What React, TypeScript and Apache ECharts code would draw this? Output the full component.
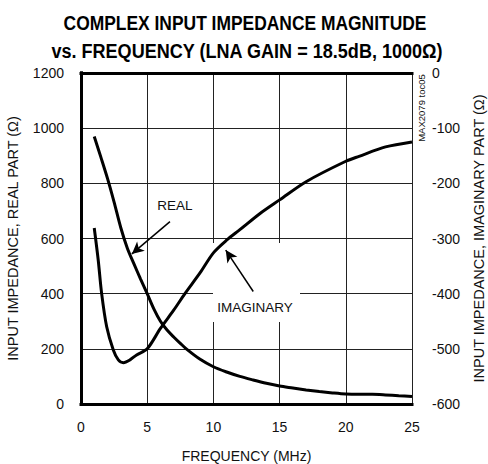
import React, { useEffect, useRef } from "react";
import * as echarts from "echarts";

const FONT = "'Liberation Sans', Arial, sans-serif";

const titleLines = ["COMPLEX INPUT IMPEDANCE MAGNITUDE", "vs. FREQUENCY (LNA GAIN = 18.5dB, 1000Ω)"];
const xName = "FREQUENCY (MHz)";
const yLeftName = "INPUT IMPEDANCE, REAL PART (Ω)";
const yRightName = "INPUT IMPEDANCE, IMAGINARY PART (Ω)";

// Real part (left axis, Ω)
const realFreq = [1, 1.5, 2, 2.5, 3, 3.5, 4, 4.5, 5, 5.5, 6, 6.5, 7, 7.5, 8, 9, 10, 11, 12, 13, 14, 15, 16, 17, 18, 19, 20, 21, 22, 23, 24, 25];
const realVal = [970, 895, 818, 732, 640, 565, 508, 453, 400, 345, 300, 268, 243, 220, 198, 162, 135, 116, 100, 87, 75, 65, 58, 51, 45, 40, 36, 35, 35, 33, 30, 27];

// Imaginary part (right axis, Ω)
const imagFreq = [1, 1.3, 1.56, 1.94, 2.44, 2.82, 3.2, 3.7, 4.2, 5, 6, 7, 7.85, 9, 10, 11, 12, 13.5, 15, 17, 20, 21, 23, 25];
const imagVal = [-281, -339, -400, -460, -502, -520, -525, -520, -511, -500, -463, -430, -400, -362, -326, -303, -284, -255, -230, -197, -160, -151, -134, -125];

const annotations = { real: "REAL", imag: "IMAGINARY", code: "MAX2079 toc05" };

export default function App() {
  const ref = useRef<HTMLDivElement>(null);
  useEffect(() => {
    if (!ref.current) return;
    const chart = echarts.init(ref.current, null, { renderer: "svg" });
    const realData = realFreq.map((f, i) => [f, realVal[i]]);
    const imagData = imagFreq.map((f, i) => [f, imagVal[i]]);
    const axisLabel = { color: "#111", fontSize: 14, fontFamily: FONT, formatter: (v: number) => String(v) };
    const frame = { show: true, lineStyle: { color: "#000", width: 3, cap: "square" } };
    const nameStyle = { fontSize: 14.5, fontFamily: FONT, color: "#111" };
    chart.setOption({
      animation: false,
      backgroundColor: "#fff",
      grid: { left: 81, right: 76, top: 73, bottom: 60, containLabel: false, outerBoundsMode: "none" },
      xAxis: [
        {
          type: "value",
          min: 0,
          max: 25,
          interval: 5,
          name: xName,
          nameLocation: "middle",
          nameGap: 45,
          nameTextStyle: { ...nameStyle, fontSize: 14 },
          axisLine: frame,
          axisTick: { show: false },
          axisLabel: { ...axisLabel, margin: 16 },
          splitLine: { show: true, lineStyle: { color: "#222", width: 1 } },
        },
        {
          type: "value",
          position: "top",
          min: 0,
          max: 25,
          interval: 5,
          axisLine: frame,
          axisTick: { show: false },
          axisLabel: { show: false },
          splitLine: { show: false },
        },
      ],
      yAxis: [
        {
          type: "value",
          min: 0,
          max: 1200,
          interval: 200,
          name: yLeftName,
          nameLocation: "middle",
          nameGap: 61,
          nameTextStyle: nameStyle,
          axisLine: frame,
          axisTick: { show: false },
          axisLabel: { ...axisLabel, margin: 17 },
          splitLine: { show: true, lineStyle: { color: "#222", width: 1 } },
        },
        {
          type: "value",
          min: -600,
          max: 0,
          interval: 100,
          position: "right",
          name: yRightName,
          nameLocation: "middle",
          nameGap: 59,
          nameRotate: 90,
          nameTextStyle: nameStyle,
          axisLine: frame,
          axisTick: { show: false },
          axisLabel: { ...axisLabel, margin: 20 },
          splitLine: { show: false },
        },
      ],
      graphic: [
        {
          type: "text",
          x: 245,
          y: 23,
          scaleX: 0.83,
          style: { text: titleLines[0], fontSize: 21, fontWeight: "bold", fontFamily: FONT, fill: "#000", align: "center", verticalAlign: "middle" },
        },
        {
          type: "text",
          x: 247,
          y: 50,
          scaleX: 0.86,
          style: { text: titleLines[1], fontSize: 21, fontWeight: "bold", fontFamily: FONT, fill: "#000", align: "center", verticalAlign: "middle" },
        },
        { type: "rect", z: 1, shape: { x: 213, y: 243, width: 87, height: 79 }, style: { fill: "#fff" } },
        {
          type: "text",
          z: 10,
          x: 175,
          y: 205,
          style: { text: annotations.real, fontSize: 13.5, fontFamily: FONT, fill: "#111", align: "center", verticalAlign: "middle" },
        },
        {
          type: "text",
          z: 10,
          x: 255,
          y: 307,
          style: { text: annotations.imag, fontSize: 13.5, fontFamily: FONT, fill: "#111", align: "center", verticalAlign: "middle" },
        },
        {
          type: "text",
          z: 10,
          x: 421,
          y: 108,
          rotation: Math.PI / 2,
          style: { text: annotations.code, fontSize: 9.5, fontFamily: FONT, fill: "#111", align: "center", verticalAlign: "middle" },
        },
      ],
      series: [
        {
          type: "line",
          name: "REAL",
          yAxisIndex: 0,
          data: realData,
          smooth: 0.3,
          showSymbol: false,
          lineStyle: { color: "#000", width: 3 },
          markLine: {
            silent: true,
            symbol: ["none", "arrow"],
            symbolSize: [9, 12],
            label: { show: false },
            lineStyle: { color: "#000", width: 1.5, type: "solid" },
            data: [[{ coord: [6.72, 661] }, { coord: [3.84, 544] }]],
          },
        },
        {
          type: "line",
          name: "IMAGINARY",
          yAxisIndex: 1,
          data: imagData,
          smooth: 0.3,
          showSymbol: false,
          lineStyle: { color: "#000", width: 3 },
          markLine: {
            silent: true,
            symbol: ["none", "arrow"],
            symbolSize: [9, 12],
            label: { show: false },
            lineStyle: { color: "#000", width: 1.5, type: "solid" },
            data: [[{ coord: [13.01, -396] }, { coord: [10.93, -321] }]],
          },
        },
      ],
    });
    return () => chart.dispose();
  }, []);
  return <div ref={ref} style={{ position: "fixed", left: 0, top: 0, width: 488, height: 464, background: "#fff" }} />;
}
